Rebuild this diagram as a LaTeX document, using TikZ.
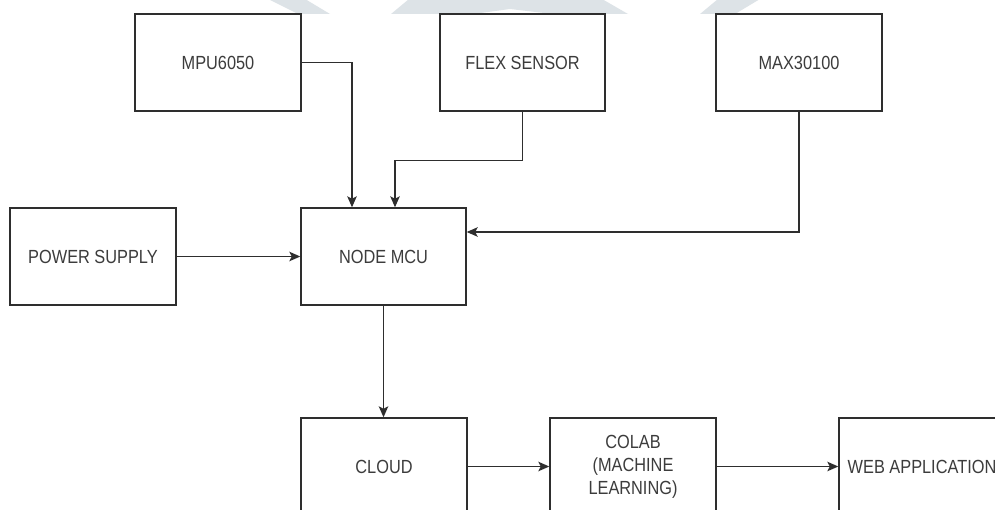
\documentclass[tikz,border=0pt]{standalone}
\usepackage{fontspec}
\setmainfont[FakeStretch=0.86]{Liberation Sans}
\usetikzlibrary{arrows.meta}
\definecolor{linecol}{HTML}{2E2E2E}
\definecolor{textcol}{HTML}{3C3C3C}
\definecolor{wmark}{HTML}{DDE3E7}
\tikzset{
  blockbox/.style={draw=linecol, line width=1.4pt, fill=white, minimum width=166pt, minimum height=97pt, inner sep=0pt, text=textcol, font=\fontsize{19}{23}\selectfont, align=center},
  arr/.style={draw=linecol, line width=1.4pt, -{Stealth[length=11pt,width=9.5pt,inset=2.5pt]}}
}
\begin{document}
\begin{tikzpicture}[x=1pt,y=-1pt]
\clip (0,0) rectangle (995,509);
\fill[white] (0,0) rectangle (995,509);
% watermark fragments
\begin{scope}
\clip (0,0) rectangle (995,13.5);
\fill[wmark] (268,-1) -- (305,-1) -- (330,14) -- (298,14) -- cycle;
\fill[wmark] (391,14) -- (409,-1) -- (602,-1) -- (628,14) -- (553,14) -- (510,9) -- (473,14) -- cycle;
\fill[wmark] (700,14) -- (718,-1) -- (760,-1) -- (735,14) -- cycle;
\end{scope}
% blocks
\node[blockbox] (mpu)   at (218,62.5)  {MPU6050};
\node[blockbox, minimum width=165pt] (flex)  at (522.5,62.5) {FLEX SENSOR};
\node[blockbox] (max)   at (799,62.5)  {MAX30100};
\node[blockbox] (power) at (93,256.5)  {POWER SUPPLY};
\node[blockbox, minimum width=165pt] (mcu)   at (383.5,256.5) {NODE MCU};
\node[blockbox] (cloud) at (384,466.5) {CLOUD};
\node[blockbox] (colab) at (633,466.5) {COLAB\\(MACHINE\\LEARNING)};
\node[blockbox] (web)   at (922,466.5) {WEB APPLICATION};
% connectors
\draw[arr] (mpu.east) -| ([xshift=-31.5pt]mcu.north);
\draw[arr] (flex.south) -- ++(0,49) -| ([xshift=11.5pt]mcu.north);
\draw[arr] (max.south) |- ([yshift=24.5pt]mcu.east);
\draw[arr] (power.east) -- (mcu.west);
\draw[arr] (mcu.south) -- (mcu.south |- cloud.north);
\draw[arr] (cloud.east) -- (colab.west);
\draw[arr] (colab.east) -- (web.west);
\end{tikzpicture}
\end{document}
